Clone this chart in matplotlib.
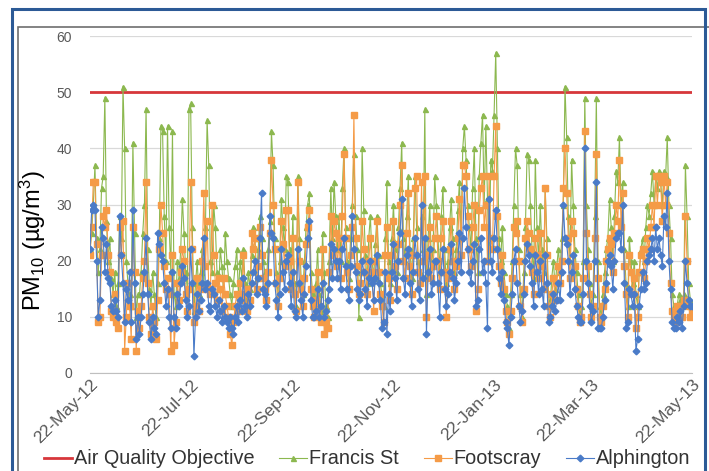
import matplotlib
matplotlib.use("Agg")
from matplotlib import pyplot as plt
from matplotlib.patches import Rectangle
import pandas as pd

plt.rcParams['font.family'] = ['Liberation Sans', 'DejaVu Sans']
plt.rcParams['mathtext.default'] = 'regular'

# daily PM10, 22-May-12 .. 22-May-13
francis = [
    22, 25, 30, 37, 24, 18, 22, 33, 35, 49, 27, 20, 24, 17, 14, 18, 12, 16, 28, 24, 51, 40, 20, 16, 14, 12, 41, 25, 10, 14,
    14, 18, 25, 30, 47, 22, 15, 12, 18, 14, 10, 16, 24, 44, 43, 28, 20, 44, 26, 18, 43, 14, 12, 20, 17, 22, 31, 25, 18, 15,
    47, 48, 26, 11, 16, 20, 14, 18, 22, 16, 26, 45, 37, 20, 18, 30, 26, 18, 15, 22, 19, 14, 25, 20, 17, 14, 12, 16, 19, 22,
    14, 20, 17, 22, 16, 13, 18, 15, 21, 26, 24, 17, 22, 28, 24, 20, 18, 16, 22, 27, 43, 37, 24, 18, 14, 20, 31, 26, 22, 35,
    34, 22, 18, 28, 16, 12, 35, 24, 17, 14, 20, 26, 30, 32, 18, 14, 12, 16, 22, 14, 11, 25, 18, 12, 10, 20, 33, 24, 34, 28,
    22, 28, 20, 33, 40, 26, 20, 17, 24, 30, 39, 28, 22, 10, 18, 40, 29, 21, 16, 24, 28, 20, 17, 23, 28, 21, 16, 14, 12, 24,
    34, 20, 16, 24, 30, 22, 18, 26, 33, 41, 24, 20, 28, 35, 22, 17, 24, 35, 26, 20, 18, 28, 22, 47, 14, 24, 30, 19, 22, 35,
    30, 24, 18, 28, 33, 22, 16, 20, 26, 31, 24, 18, 22, 29, 34, 24, 40, 44, 38, 30, 26, 22, 33, 40, 24, 18, 35, 41, 46, 30,
    44, 31, 20, 38, 36, 46, 57, 40, 24, 20, 26, 18, 14, 12, 8, 14, 20, 30, 40, 37, 22, 14, 10, 18, 26, 39, 38, 30, 22, 17,
    38, 26, 20, 30, 22, 18, 33, 24, 14, 12, 17, 20, 15, 19, 22, 18, 24, 30, 51, 42, 28, 20, 38, 30, 22, 18, 14, 10, 12, 20,
    49, 30, 22, 16, 12, 14, 28, 49, 20, 12, 10, 14, 18, 22, 24, 31, 26, 20, 28, 36, 34, 42, 30, 34, 22, 16, 12, 24, 20, 16,
    20, 14, 12, 18, 22, 24, 20, 26, 30, 28, 32, 36, 30, 35, 33, 36, 34, 30, 36, 35, 42, 30, 24, 14, 12, 10, 12, 14, 13, 12,
    14, 37, 28, 16, 13, 12,
]
footscray = [
    21, 26, 34, 34, 23, 9, 10, 21, 28, 26, 29, 21, 18, 11, 10, 14, 9, 8, 26, 21, 27, 4, 10, 16, 12, 6, 26, 18, 4, 11,
    8, 12, 17, 20, 34, 16, 10, 7, 12, 9, 6, 13, 22, 30, 25, 19, 15, 17, 14, 4, 21, 5, 9, 16, 13, 18, 22, 20, 14, 11,
    15, 34, 22, 9, 12, 17, 11, 15, 20, 32, 19, 27, 15, 14, 30, 21, 16, 13, 17, 15, 11, 17, 14, 12, 10, 7, 5, 9, 12, 14,
    11, 16, 13, 21, 14, 11, 15, 13, 25, 22, 24, 15, 19, 26, 21, 17, 15, 13, 18, 25, 38, 30, 22, 16, 12, 17, 27, 23, 19, 29,
    29, 20, 15, 24, 14, 11, 34, 20, 15, 12, 17, 23, 26, 29, 15, 12, 10, 13, 18, 12, 9, 22, 7, 9, 8, 18, 28, 21, 27, 25,
    19, 24, 17, 28, 39, 24, 18, 15, 21, 26, 46, 24, 19, 14, 16, 27, 22, 18, 14, 20, 24, 18, 11, 20, 27, 18, 14, 12, 9, 21,
    26, 17, 13, 21, 27, 19, 15, 23, 30, 37, 20, 17, 25, 32, 19, 14, 21, 33, 35, 18, 16, 34, 20, 35, 10, 21, 26, 17, 19, 24,
    28, 20, 15, 24, 27, 18, 10, 17, 22, 27, 20, 15, 19, 24, 31, 21, 37, 37, 35, 28, 22, 19, 26, 30, 11, 15, 29, 33, 35, 26,
    30, 20, 35, 24, 22, 35, 44, 28, 19, 16, 21, 15, 11, 9, 7, 11, 17, 26, 25, 27, 20, 12, 9, 15, 24, 27, 25, 22, 18, 14,
    24, 21, 17, 25, 19, 15, 33, 21, 12, 10, 14, 17, 13, 16, 19, 16, 20, 33, 40, 32, 24, 17, 27, 25, 19, 15, 12, 9, 10, 17,
    43, 25, 19, 14, 10, 12, 24, 39, 17, 10, 9, 12, 15, 20, 22, 24, 23, 18, 25, 30, 27, 38, 26, 32, 19, 14, 10, 21, 18, 14,
    17, 8, 10, 18, 21, 22, 17, 20, 24, 22, 26, 30, 26, 35, 30, 35, 34, 27, 35, 30, 34, 25, 16, 11, 10, 9, 12, 11, 12, 10,
    13, 28, 20, 12, 10, 11,
]
alphington = [
    22, 29, 30, 29, 20, 10, 13, 26, 24, 18, 23, 17, 16, 12, 11, 13, 11, 10, 28, 21, 16, 9, 15, 13, 18, 9, 29, 16, 6, 10,
    7, 10, 14, 18, 24, 14, 9, 6, 10, 8, 7, 25, 23, 21, 20, 16, 12, 15, 10, 8, 18, 10, 8, 14, 12, 16, 19, 17, 13, 10,
    12, 22, 16, 3, 10, 14, 11, 13, 16, 24, 15, 16, 12, 11, 15, 14, 12, 10, 13, 11, 9, 12, 10, 9, 8, 10, 8, 7, 10, 12,
    9, 13, 11, 17, 12, 10, 14, 12, 16, 18, 20, 14, 17, 24, 32, 15, 14, 12, 16, 28, 25, 24, 16, 13, 10, 14, 22, 18, 15, 20,
    21, 16, 12, 18, 11, 10, 22, 16, 13, 10, 14, 19, 24, 27, 13, 10, 10, 11, 15, 10, 12, 16, 10, 11, 13, 15, 23, 17, 22, 20,
    17, 20, 15, 22, 24, 19, 15, 13, 19, 28, 22, 18, 15, 13, 14, 20, 18, 15, 12, 17, 20, 16, 13, 17, 21, 16, 13, 8, 9, 18,
    7, 14, 11, 18, 23, 17, 13, 20, 25, 31, 17, 14, 21, 22, 16, 12, 18, 24, 21, 15, 13, 30, 17, 24, 7, 18, 22, 14, 16, 20,
    20, 16, 10, 18, 22, 15, 12, 14, 18, 23, 17, 13, 16, 20, 25, 18, 24, 33, 26, 22, 18, 16, 20, 23, 12, 13, 22, 24, 18, 20,
    16, 8, 31, 20, 18, 24, 29, 22, 17, 14, 18, 13, 9, 8, 5, 10, 14, 20, 22, 16, 12, 9, 11, 14, 20, 23, 21, 19, 16, 12,
    21, 18, 14, 20, 15, 12, 21, 16, 9, 10, 12, 14, 11, 13, 16, 13, 18, 30, 24, 23, 20, 14, 18, 21, 15, 12, 10, 9, 9, 14,
    40, 20, 16, 12, 9, 11, 20, 34, 8, 8, 8, 10, 13, 16, 20, 21, 19, 15, 20, 24, 25, 25, 22, 30, 16, 8, 9, 15, 14, 12,
    14, 4, 6, 12, 15, 18, 15, 16, 20, 21, 22, 24, 20, 26, 22, 24, 21, 19, 28, 26, 32, 20, 15, 9, 8, 8, 10, 9, 11, 8,
    12, 20, 16, 13, 12, 12,
]
objective = 50
tick_labels = ['22-May-12', '22-Jul-12', '22-Sep-12', '22-Nov-12',
               '22-Jan-13', '22-Mar-13', '22-May-13']

dates = pd.date_range('2012-05-22', periods=len(francis), freq='D')
tick_dates = pd.to_datetime(tick_labels, format='%d-%b-%y')

fig = plt.figure(figsize=(7.09, 4.71), dpi=100)

# outer blue frame and grey chart border
fig.patches.append(Rectangle((12 / 709, -0.1), 693 / 709, 1.1 - 9 / 471,
                             transform=fig.transFigure, fill=False,
                             edgecolor='#2C5A96', linewidth=2.2, zorder=3))
fig.patches.append(Rectangle((18 / 709, -0.1), 1.0, 1.1 - 27 / 471,
                             transform=fig.transFigure, fill=False,
                             edgecolor='#6E6E6E', linewidth=1.2, zorder=2))

ax = fig.add_axes([90 / 709, 1 - 373 / 471, 602 / 709, 337 / 471])

ax.axhline(objective, color='#D7373B', lw=2, zorder=2, label='Air Quality Objective')
ax.plot(dates, francis, color='#8CB84F', lw=0.8, marker='^', ms=3.6, zorder=3, label='Francis St')
ax.plot(dates, footscray, color='#F59B47', lw=0.8, marker='s', ms=4.2, zorder=4, label='Footscray')
ax.plot(dates, alphington, color='#4A7BC8', lw=0.8, marker='D', ms=3.4, zorder=5, label='Alphington')

ax.set_xlim(dates[0], dates[-1])
ax.set_ylim(0, 60)
ax.set_yticks(range(0, 61, 10))
ax.grid(axis='y', color='#D9D9D9', lw=0.9)
ax.set_axisbelow(True)
for s in ['top', 'right', 'left']:
    ax.spines[s].set_visible(False)
ax.spines['bottom'].set_color('#BFBFBF')
ax.tick_params(axis='both', length=0, colors='#595959')
ax.tick_params(axis='y', labelsize=10, pad=13)
ax.set_xticks(tick_dates)
ax.set_xticklabels(tick_labels, rotation=45, ha='right', rotation_mode='anchor', fontsize=12.5)
ax.tick_params(axis='x', pad=3)

fig.text(33 / 709, 0.49, 'PM$_{10}$ (µg/m$^3$)', rotation=90, fontsize=17,
         ha='center', va='center', color='black')

fig.legend(loc='center', bbox_to_anchor=(0.518, 1 - 459 / 471), ncol=4, frameon=False,
           fontsize=14.3, handlelength=1.4, columnspacing=1.25, handletextpad=0.1,
           borderpad=0, labelcolor='#333333')

fig.savefig('out.png', dpi=100)
